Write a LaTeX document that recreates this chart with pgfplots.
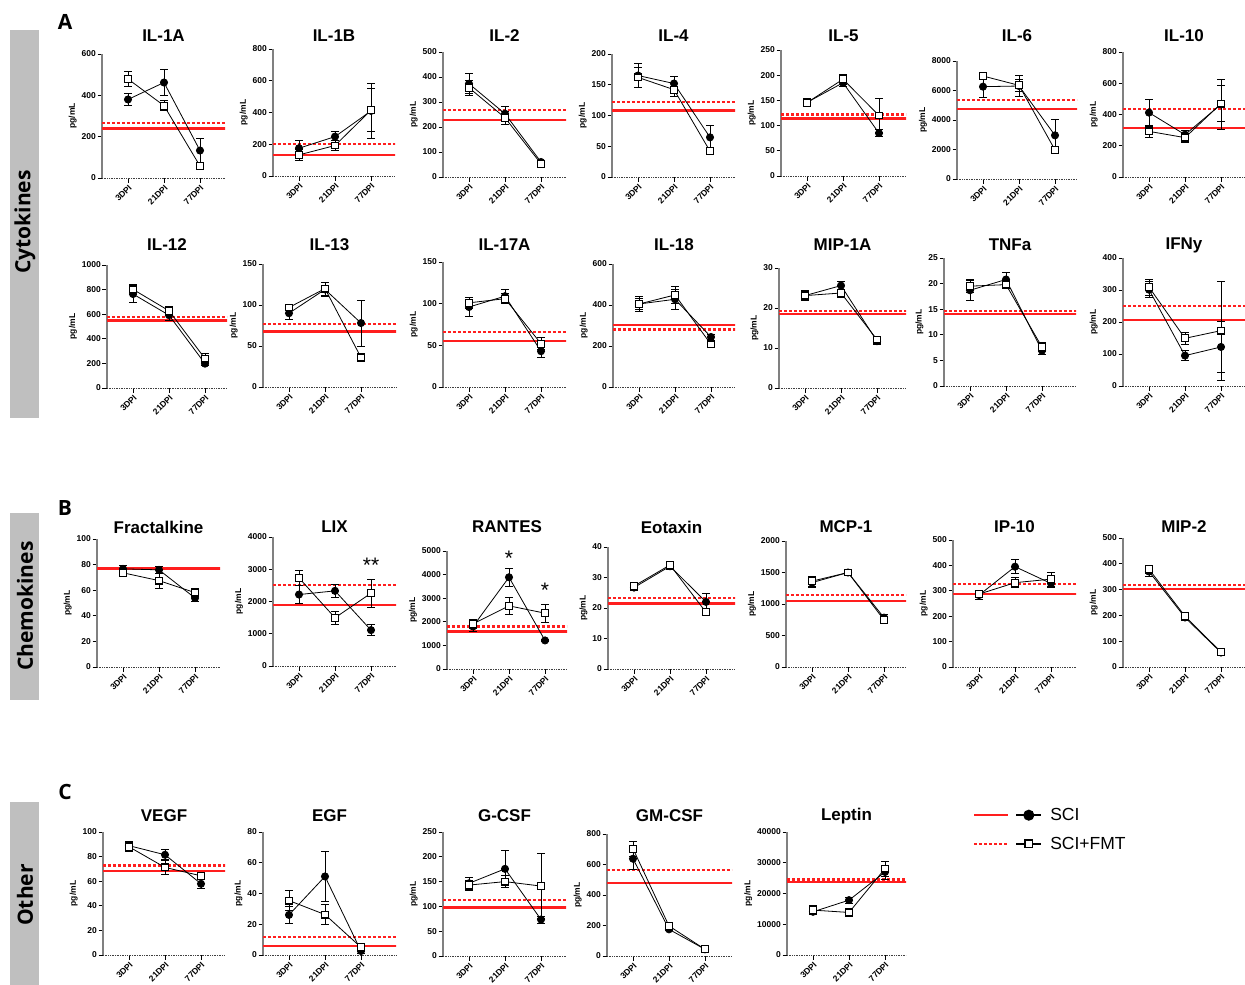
\documentclass[border=0pt]{standalone}
\usepackage{fontspec}
\setmainfont{Liberation Sans}
\newfontfamily\opensans{Open Sans}
\usepackage{pgfplots}
\pgfplotsset{compat=1.18}

\newcommand\tickfont{\bfseries\fontsize{8.5}{9}\selectfont}
\newcommand\titlefont{\bfseries\fontsize{17}{19}\selectfont}
\newcommand\sidefont{\opensans\bfseries\fontsize{21}{24}\selectfont}

\definecolor{redl}{RGB}{255,30,30}
\definecolor{boxgray}{RGB}{191,191,191}

\newcommand\geom[5]{%
 \pgfmathsetmacro\W{#4-#1}%
 \pgfmathsetmacro\H{#3-#2}%
 \pgfmathsetmacro\XM{(#4-#1-26)/36}%
 \pgfmathsetmacro\TS{#2-#5}%
 \def\X{#1}\def\B{#3}}

\pgfplotsset{
 every axis title shift=0pt,
 pn/.style={
  scale only axis,
  at={(\X pt,-\B pt)}, anchor=south west,
  width=\W pt, height=\H pt,
  xmin=-0.722, xmax=\XM, ymin=0,
  xtick={0,1,2}, xticklabels={3DPI,21DPI,77DPI},
  axis x line*=bottom, axis y line*=left,
  x axis line style={-, black!75, line width=1pt, dash pattern=on 1pt off 0.7pt},
  y axis line style={-, black!50, line width=1.6pt},
  tick align=outside, major tick length=4.5pt,
  tick style={black, line width=0.8pt},
  xticklabel style={rotate=45, anchor=north east, font=\tickfont, inner sep=1pt},
  yticklabel style={font=\tickfont, inner sep=1.5pt},
  ylabel={pg/mL}, ylabel style={font=\tickfont},
  title style={at={(0.5,1)}, anchor=center, yshift=\TS pt, font=\titlefont},
  /pgf/number format/assume math mode=true,
  /pgf/number format/1000 sep={},
  scaled y ticks=false,
  clip mode=individual,
 },
 scis/.style={black, line width=0.8pt, mark=*, mark size=3.6pt,
  mark options={solid, fill=black}, forget plot,
  error bars/.cd, y dir=both, y explicit,
  error bar style={line width=0.8pt, black, solid},
  error mark options={rotate=90, mark size=3.8pt, line width=0.8pt, black}},
 fmts/.style={black, line width=0.8pt, mark=square*, mark size=3.4pt,
  mark options={solid, fill=white, draw=black, line width=1.1pt}, forget plot,
  error bars/.cd, y dir=both, y explicit,
  error bar style={line width=0.8pt, black, solid},
  error mark options={rotate=90, mark size=3.8pt, line width=0.8pt, black}},
}

\newcommand\base[2]{%
 \addplot[redl, line width=2.2pt, no markers, forget plot] coordinates {(-1,#1) (5,#1)};
 \addplot[redl, line width=2.2pt, no markers, forget plot, dash pattern=on 3pt off 2pt] coordinates {(-1,#2) (5,#2)};}
\newcommand\sci[1]{\addplot[scis] coordinates {#1};}
\newcommand\fmt[1]{\addplot[fmts] coordinates {#1};}

\begin{document}
\begin{tikzpicture}
\path[use as bounding box] (0pt,0pt) rectangle (1245pt,-985pt);

% side boxes
\fill[boxgray] (10pt,-30pt) rectangle (39pt,-418pt);
\fill[boxgray] (10pt,-513pt) rectangle (39pt,-700pt);
\fill[boxgray] (10pt,-802pt) rectangle (39pt,-985pt);
\node[rotate=90, font=\sidefont] at (25pt,-222pt) {Cytokines};
\node[rotate=90, font=\sidefont] at (25pt,-606pt) {Chemokines};
\node[rotate=90, font=\sidefont] at (25pt,-895pt) {Other};
\node[font=\sidefont] at (65pt,-22pt) {A};
\node[font=\sidefont] at (65pt,-508pt) {B};
\node[font=\sidefont] at (65pt,-792pt) {C};

%%%%% Row 1
\geom{102}{54}{178}{225}{36}
\begin{axis}[pn, title={IL-1A}, ymax=600, ytick distance=200]
\base{240}{267}
\sci{(0,380)+-(0,28) (1,462)+-(0,62) (2,133)+-(0,58)}
\fmt{(0,479)+-(0,36) (1,350)+-(0,25) (2,58)+-(0,10)}
\end{axis}

\geom{273}{49}{176}{395}{36}
\begin{axis}[pn, title={IL-1B}, ymax=800, ytick distance=200]
\base{131}{204}
\sci{(0,175)+-(0,48) (1,248)+-(0,36) (2,410)+-(0,175)}
\fmt{(0,133)+-(0,35) (1,192)+-(0,30) (2,415)+-(0,135)}
\end{axis}

\geom{443}{52}{177}{566}{36}
\begin{axis}[pn, title={IL-2}, ymax=500, ytick distance=100]
\base{229}{267}
\sci{(0,373)+-(0,40) (1,253)+-(0,30) (2,60)+-(0,8)}
\fmt{(0,357)+-(0,30) (1,237)+-(0,25) (2,53)+-(0,7)}
\end{axis}

\geom{612}{54}{177}{735}{36}
\begin{axis}[pn, title={IL-4}, ymax=200, ytick distance=50]
\base{108}{121.5}
\sci{(0,165)+-(0,20) (1,152)+-(0,11) (2,64.5)+-(0,19)}
\fmt{(0,162)+-(0,16) (1,142)+-(0,11) (2,42)+-(0,5)}
\end{axis}

\geom{781}{50}{176}{906}{36}
\begin{axis}[pn, title={IL-5}, ymax=250, ytick distance=50]
\base{114}{122}
\sci{(0,146)+-(0,8) (1,185)+-(0,8) (2,85)+-(0,7)}
\fmt{(0,145.5)+-(0,8) (1,192)+-(0,10) (2,120)+-(0,34)}
\end{axis}

\geom{957}{61}{179}{1077}{36}
\begin{axis}[pn, title={IL-6}, ymax=8000, ytick distance=2000]
\base{4745}{5333}
\sci{(0,6260)+-(0,720) (1,6305)+-(0,700) (2,2960)+-(0,1080)}
\fmt{(0,6983)+-(0,200) (1,6350)+-(0,400) (2,1966)+-(0,250)}
\end{axis}

\geom{1123}{52}{177}{1245}{36}
\begin{axis}[pn, title={IL-10}, ymax=800, ytick distance=200]
\base{313}{437}
\sci{(0,412)+-(0,87) (1,271)+-(0,25) (2,465)+-(0,160)}
\fmt{(0,292)+-(0,40) (1,252)+-(0,30) (2,470)+-(0,115)}
\end{axis}

%%%%% Row 2
\geom{107}{265}{388}{227}{245}
\begin{axis}[pn, title={IL-12}, ymax=1000, ytick distance=200]
\base{549}{576}
\sci{(0,764)+-(0,70) (1,592)+-(0,40) (2,198)+-(0,15)}
\fmt{(0,802)+-(0,40) (1,628)+-(0,38) (2,239)+-(0,40)}
\end{axis}

\geom{263}{264}{387}{396}{245}
\begin{axis}[pn, title={IL-13}, ymax=150, ytick distance=50]
\base{67.7}{76.6}
\sci{(0,90)+-(0,7) (1,119)+-(0,8) (2,78)+-(0,28)}
\fmt{(0,97)+-(0,4) (1,120)+-(0,8) (2,36)+-(0,5)}
\end{axis}

\geom{443}{262}{387}{566}{245}
\begin{axis}[pn, title={IL-17A}, ymax=150, ytick distance=50]
\base{55}{65.6}
\sci{(0,96)+-(0,11) (1,109)+-(0,8) (2,43)+-(0,8)}
\fmt{(0,101)+-(0,7) (1,106)+-(0,6) (2,52)+-(0,7)}
\end{axis}

\geom{613}{264}{387}{735}{245}
\begin{axis}[pn, title={IL-18}, ymax=600, ytick distance=200]
\base{302}{281}
\sci{(0,405)+-(0,25) (1,428)+-(0,49) (2,244)+-(0,15)}
\fmt{(0,405)+-(0,36) (1,449)+-(0,40) (2,208)+-(0,10)}
\end{axis}

\geom{779}{268}{388}{906}{245}
\begin{axis}[pn, title={MIP-1A}, ymax=30, ytick distance=10]
\base{18.6}{19.2}
\sci{(0,23.1)+-(0,1) (1,25.6)+-(0,1) (2,11.7)+-(0,0.8)}
\fmt{(0,23.1)+-(0,1.2) (1,23.75)+-(0,1) (2,12.1)+-(0,0.8)}
\end{axis}

\geom{944}{258}{386}{1076}{245}
\begin{axis}[pn, title={TNFa}, ymax=25, ytick distance=5]
\base{14.0}{14.7}
\sci{(0,18.7)+-(0,1.9) (1,20.8)+-(0,1.4) (2,6.9)+-(0,0.8)}
\fmt{(0,19.5)+-(0,1.3) (1,19.8)+-(0,0.8) (2,7.6)+-(0,0.9)}
\end{axis}

\geom{1123}{258}{386}{1245}{245}
\begin{axis}[pn, title={IFNy}, ymax=400, ytick distance=100]
\base{207}{251}
\sci{(0,301)+-(0,25) (1,95)+-(0,15) (2,122)+-(0,80)}
\fmt{(0,309)+-(0,25) (1,149)+-(0,20) (2,173)+-(0,155)}
\end{axis}

%%%%% Row B
\geom{97}{539}{667}{220}{527}
\begin{axis}[pn, title={Fractalkine}, ymax=100, ytick distance=20]
\base{77}{77.5}
\sci{(0,76.7)+-(0,3) (1,75.9)+-(0,3) (2,53.9)+-(0,3)}
\fmt{(0,73.6)+-(0,2.5) (1,67.5)+-(0,6) (2,58.1)+-(0,3)}
\end{axis}

\geom{273}{537}{666}{396}{527}
\begin{axis}[pn, title={LIX}, ymax=4000, ytick distance=1000]
\base{1897}{2505}
\sci{(0,2216)+-(0,280) (1,2330)+-(0,200) (2,1113)+-(0,170)}
\fmt{(0,2732)+-(0,240) (1,1495)+-(0,200) (2,2258)+-(0,430)}
\node[font=\fontsize{21}{22}\selectfont, yshift=-4pt] at (axis cs:2,3256) {**};
\end{axis}

\geom{447}{551}{669}{567}{527}
\begin{axis}[pn, title={RANTES}, ymax=5000, ytick distance=1000]
\base{1592}{1803}
\sci{(0,1803)+-(0,200) (1,3887)+-(0,370) (2,1211)+-(0,60)}
\fmt{(0,1915)+-(0,200) (1,2676)+-(0,370) (2,2366)+-(0,390)}
\node[font=\fontsize{21}{22}\selectfont, yshift=-4pt] at (axis cs:1,4873) {*};
\node[font=\fontsize{21}{22}\selectfont, yshift=-4pt] at (axis cs:2,3517) {*};
\end{axis}

\geom{608}{547}{669}{735}{527}
\begin{axis}[pn, title={Eotaxin}, ymax=40, ytick distance=10]
\base{21.5}{23.2}
\sci{(0,26.7)+-(0,1) (1,33.7)+-(0,1) (2,22)+-(0,2.8)}
\fmt{(0,27.2)+-(0,1) (1,34.1)+-(0,1) (2,18.6)+-(0,1)}
\end{axis}

\geom{786}{541}{667}{906}{527}
\begin{axis}[pn, title={MCP-1}, ymax=2000, ytick distance=500]
\base{1047}{1137}
\sci{(0,1340)+-(0,80) (1,1500)+-(0,50) (2,784)+-(0,50)}
\fmt{(0,1363)+-(0,80) (1,1500)+-(0,50) (2,747)+-(0,60)}
\end{axis}

\geom{953}{540}{667}{1076}{527}
\begin{axis}[pn, title={IP-10}, ymax=500, ytick distance=100]
\base{288}{326}
\sci{(0,283)+-(0,18) (1,395)+-(0,28) (2,329)+-(0,15)}
\fmt{(0,287)+-(0,12) (1,332)+-(0,20) (2,346)+-(0,28)}
\end{axis}

\geom{1123}{538}{667}{1245}{527}
\begin{axis}[pn, title={MIP-2}, ymax=500, ytick distance=100]
\base{301}{318}
\sci{(0,370)+-(0,18) (1,192)+-(0,10) (2,56)+-(0,4)}
\fmt{(0,379)+-(0,15) (1,197)+-(0,10) (2,58)+-(0,4)}
\end{axis}

%%%%% Row C
\geom{103}{832}{955}{225}{816}
\begin{axis}[pn, title={VEGF}, ymax=100, ytick distance=20]
\base{68.5}{72.8}
\sci{(0,88.9)+-(0,3) (1,81.5)+-(0,4) (2,57.9)+-(0,3.5)}
\fmt{(0,88)+-(0,4) (1,71.2)+-(0,6) (2,64.4)+-(0,3)}
\end{axis}

\geom{263}{832}{955}{396}{816}
\begin{axis}[pn, title={EGF}, ymax=80, ytick distance=20]
\base{5.9}{11.5}
\sci{(0,26.1)+-(0,5.8) (1,51.1)+-(0,16) (2,2.6)+-(0,1.5)}
\fmt{(0,35.4)+-(0,6.5) (1,26.3)+-(0,6.5) (2,5)+-(0,2.5)}
\end{axis}

\geom{443}{832}{956}{566}{816}
\begin{axis}[pn, title={G-CSF}, ymax=250, ytick distance=50]
\base{98}{113.5}
\sci{(0,146.6)+-(0,12) (1,175.7)+-(0,38) (2,73.6)+-(0,7)}
\fmt{(0,143)+-(0,10) (1,150)+-(0,12) (2,141)+-(0,66)}
\end{axis}

\geom{607}{834}{956}{732}{816}
\begin{axis}[pn, title={GM-CSF}, ymax=800, ytick distance=200]
\base{479}{566}
\sci{(0,638)+-(0,70) (1,175)+-(0,10) (2,44)+-(0,5)}
\fmt{(0,704)+-(0,48) (1,197)+-(0,10) (2,44)+-(0,5)}
\end{axis}

\geom{787}{832}{955}{906}{816}
\begin{axis}[pn, title={Leptin}, ymax=40000, ytick distance=10000,
  legend style={draw=none, fill=none, at={(1.563,1.02)}, anchor=west,
    inner sep=0pt, row sep=11pt, column sep=6pt, font=\fontsize{17.5}{19}\selectfont,
    cells={anchor=west, inner xsep=6pt}},
  legend cell align=left]
\base{23780}{24540}
\sci{(0,14050)+-(0,1000) (1,17840)+-(0,1000) (2,27000)+-(0,2300)}
\fmt{(0,14600)+-(0,1500) (1,13840)+-(0,1200) (2,28100)+-(0,2500)}
\addlegendimage{legend image code/.code={
  \draw[redl, line width=2.2pt, solid] (0pt,0pt) -- (34pt,0pt);
  \draw[black, line width=2pt, solid, mark=*, mark size=4.5pt, mark options={fill=black}, mark repeat=2, mark phase=2] plot coordinates {(42pt,0pt) (54.5pt,0pt) (67pt,0pt)};}}
\addlegendentry{SCI}
\addlegendimage{legend image code/.code={
  \draw[redl, line width=2.2pt, dash pattern=on 3pt off 2pt] (0pt,0pt) -- (34pt,0pt);
  \draw[black, line width=2pt, solid, mark=square*, mark size=3.8pt, mark options={fill=white, draw=black, line width=1.5pt}, mark repeat=2, mark phase=2] plot coordinates {(42pt,0pt) (54.5pt,0pt) (67pt,0pt)};}}
\addlegendentry{SCI+FMT}
\end{axis}

\end{tikzpicture}
\end{document}
